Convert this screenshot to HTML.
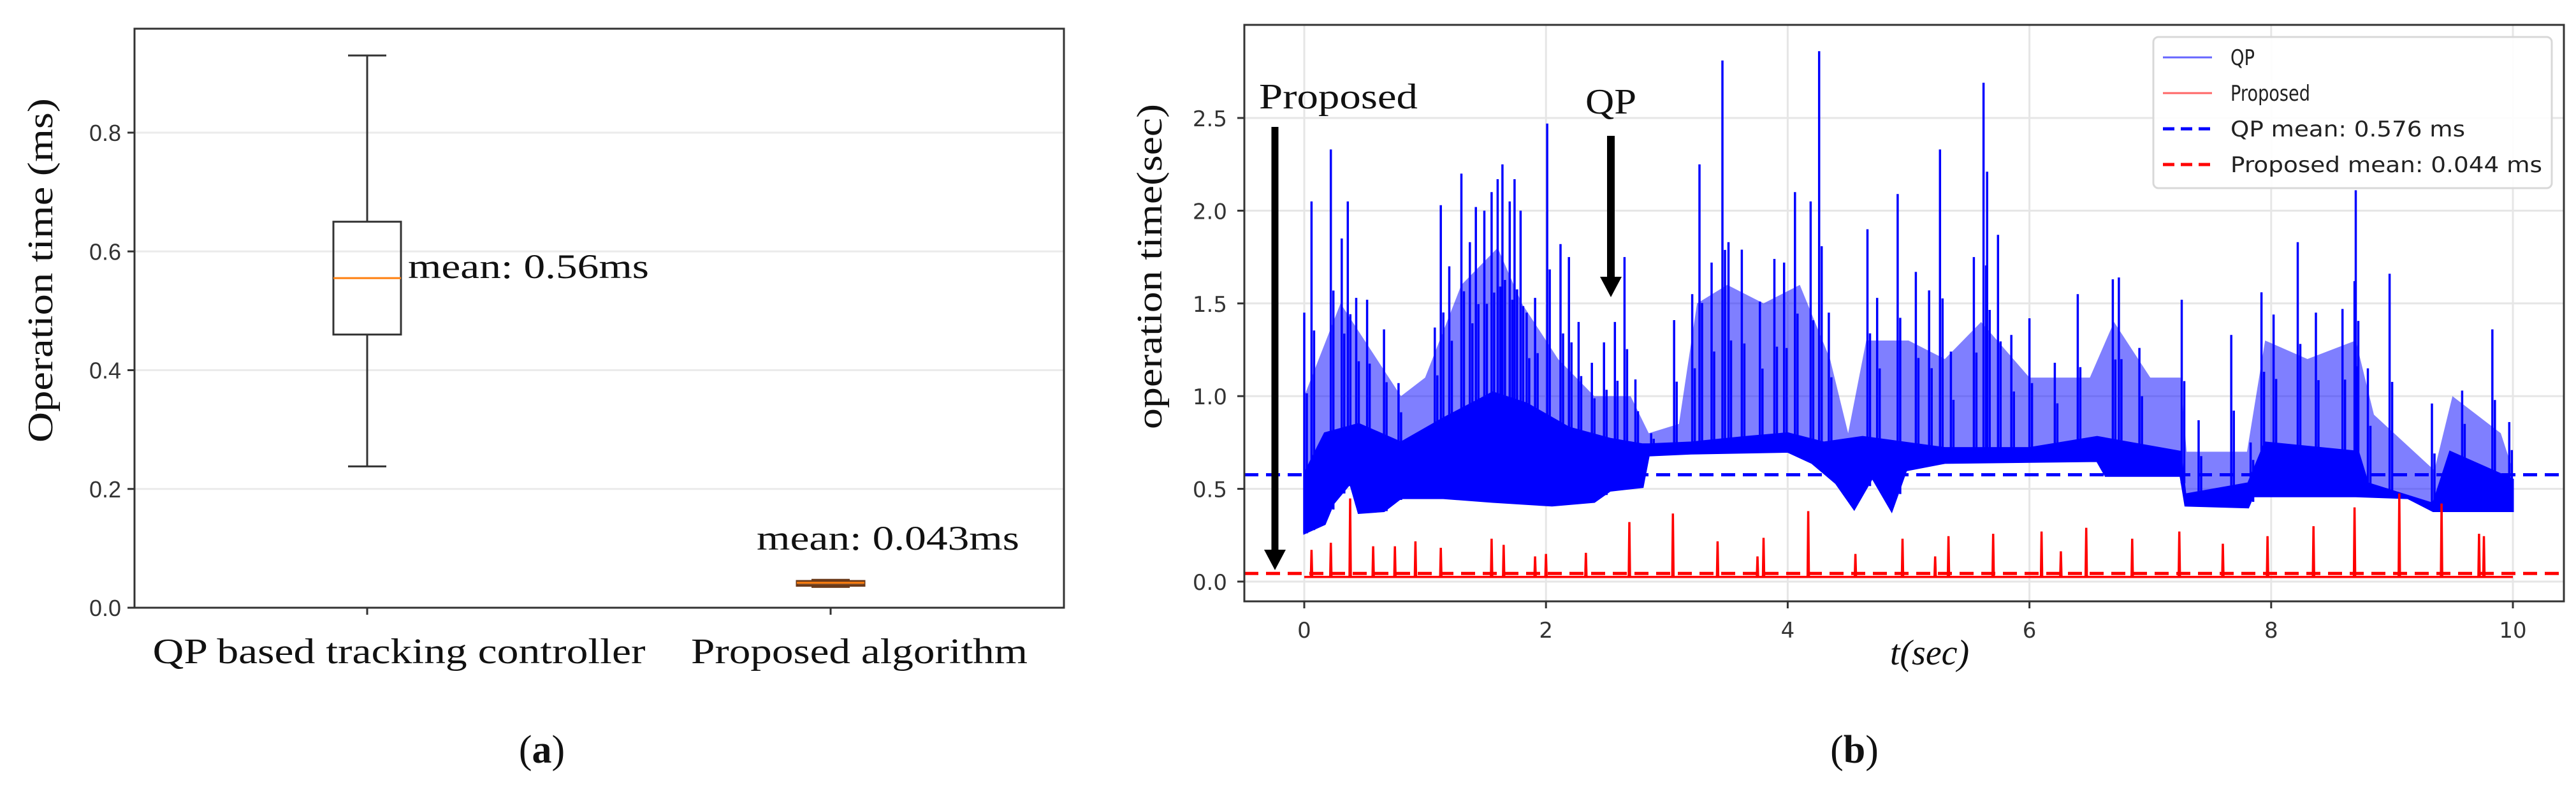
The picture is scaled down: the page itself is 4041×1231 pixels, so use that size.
<!DOCTYPE html>
<html><head><meta charset="utf-8"><style>
html,body{margin:0;padding:0;background:#fff;}
svg{display:block;}
</style></head><body>
<svg id="fig" width="4041" height="1231" viewBox="0 0 4041 1231" xmlns="http://www.w3.org/2000/svg">
<defs><clipPath id="clipb"><rect x="1952" y="40" width="2070" height="903"/></clipPath></defs>
<rect width="4041" height="1231" fill="#fff"/>
<g id="chartA"></g>
<g id="chartB"></g>
</svg>
<script>
// ---------- Chart A data ----------
const boxCategories = ["QP based tracking controller", "Proposed algorithm"];
const boxWhiskLow = [0.238, 0.035];
const boxQ1 = [0.46, 0.037];
const boxMedian = [0.555, 0.042];
const boxQ3 = [0.65, 0.045];
const boxWhiskHigh = [0.93, 0.047];
const boxMeanLabels = ["mean: 0.56ms", "mean: 0.043ms"];
const aTicks = [0.0, 0.2, 0.4, 0.6, 0.8];
const aTickLabels = ["0.0", "0.2", "0.4", "0.6", "0.8"];

// ---------- Chart B data ----------
const bXTicks = [0, 2, 4, 6, 8, 10];
const bYTicks = [0.0, 0.5, 1.0, 1.5, 2.0, 2.5];
const bYTickLabels = ["0.0", "0.5", "1.0", "1.5", "2.0", "2.5"];
const qpLowT = [0,0.17,0.24,0.38,0.45,0.66,0.8,1.15,1.56,2.05,2.4,2.53,2.8,2.85,3.2,4.0,4.2,4.4,4.55,4.7,4.86,4.98,5.3,6.56,6.63,7.25,7.29,7.81,7.85,8.7,9.13,9.34,10];
const qpLowV = [0.26,0.31,0.42,0.53,0.37,0.38,0.45,0.45,0.43,0.41,0.43,0.49,0.51,0.68,0.69,0.70,0.64,0.53,0.39,0.56,0.38,0.6,0.64,0.65,0.57,0.57,0.41,0.40,0.46,0.46,0.45,0.38,0.38];
const qpTopT = [0,0.17,0.45,0.8,1.15,1.56,1.84,2.19,2.53,2.8,2.85,3.2,3.65,4.0,4.3,4.62,5.3,6.0,6.56,7.25,7.29,7.81,7.95,8.72,8.8,9.34,9.48,10];
const qpTopV = [0.58,0.8,0.85,0.75,0.88,1.02,0.96,0.83,0.77,0.74,0.74,0.75,0.78,0.80,0.75,0.78,0.72,0.72,0.78,0.70,0.47,0.53,0.75,0.70,0.53,0.42,0.70,0.55];
const qpMidT = [0,0.3,0.5,0.8,1.0,1.3,1.6,1.8,2.1,2.4,2.7,2.85,3.1,3.25,3.5,3.8,4.1,4.35,4.5,4.65,5.0,5.3,5.6,6.0,6.5,6.7,7.0,7.25,7.3,7.8,7.95,8.3,8.7,8.85,9.35,9.5,9.9,10];
const qpMidV = [1.0,1.5,1.3,1.0,1.1,1.6,1.8,1.5,1.2,1.0,1.0,0.8,0.85,1.5,1.6,1.5,1.6,1.2,0.8,1.3,1.3,1.2,1.4,1.1,1.1,1.4,1.1,1.1,0.7,0.7,1.3,1.2,1.3,0.9,0.6,1.0,0.8,0.6];
const qpSpikeT = [0,0.06,0.22,0.31,0.36,0.43,0.52,0.66,0.78,1.08,1.13,1.2,1.3,1.37,1.42,1.49,1.55,1.6,1.64,1.7,1.74,1.79,1.84,1.91,2.01,2.12,2.19,2.27,2.38,2.48,2.57,2.65,2.74,2.87,3.06,3.21,3.27,3.37,3.46,3.51,3.62,3.77,3.89,3.97,4.06,4.19,4.26,4.34,4.66,4.74,4.91,5.06,5.17,5.26,5.35,5.54,5.62,5.65,5.74,5.85,6.0,6.21,6.4,6.69,6.74,6.91,7.26,7.4,7.67,7.83,7.92,8.02,8.22,8.37,8.59,8.69,8.7,8.8,8.98,9.33,9.58,9.83,9.97];
const qpSpikeV = [1.45,2.05,2.33,1.85,2.05,1.53,1.52,1.36,1.07,1.37,2.03,1.70,2.2,1.83,2.02,2.0,2.1,2.17,2.25,2.05,2.17,2.0,1.45,1.53,2.47,1.82,1.75,1.4,1.18,1.29,1.4,1.75,1.09,0.8,1.41,1.55,2.25,1.72,2.81,1.83,1.79,1.51,1.74,1.72,2.1,2.05,2.86,1.45,1.9,1.53,2.09,1.67,1.57,2.33,1.24,1.75,2.69,2.21,1.87,1.33,1.42,1.18,1.55,1.63,1.64,1.26,1.52,0.87,1.33,0.75,1.56,1.44,1.83,1.45,1.47,1.62,2.11,1.15,1.66,0.96,1.03,1.36,0.86];
const propSpikeT = [0.06,0.22,0.38,0.57,0.75,0.92,1.13,1.55,1.65,1.91,2.0,2.33,2.69,3.05,3.42,3.75,3.8,4.17,4.56,4.95,5.22,5.33,5.70,6.1,6.26,6.47,6.85,7.24,7.6,7.97,8.35,8.69,9.06,9.41,9.72,9.76];
const propSpikeV = [0.171,0.209,0.448,0.19,0.19,0.217,0.182,0.231,0.198,0.136,0.149,0.155,0.321,0.367,0.217,0.136,0.236,0.38,0.149,0.231,0.136,0.245,0.258,0.27,0.163,0.29,0.231,0.27,0.204,0.245,0.299,0.40,0.475,0.421,0.258,0.245];
const propBase = 0.025;
const qpMean = 0.576;
const propMean = 0.044;
const legendLabels = ["QP", "Proposed", "QP mean: 0.576 ms", "Proposed mean: 0.044 ms"];

const NS = "http://www.w3.org/2000/svg";
function mk(parent, tag, attrs, text) {
  const e = document.createElementNS(NS, tag);
  for (const k in attrs) e.setAttribute(k, attrs[k]);
  if (text !== undefined) e.textContent = text;
  parent.appendChild(e);
  return e;
}
// ---------- Chart A ----------
const A = document.getElementById('chartA');
const ya = v => 953 - v * 931.25;
const catX = [576, 1303];
const labelX = [626, 1348];
aTicks.forEach((t, i) => {
  const g = mk(A, 'line', {x1: 211, x2: 1669, y1: ya(t), y2: ya(t), stroke: '#ebebeb', 'stroke-width': 3});
  
  
  const tk = mk(A, 'line', {x1: 200, x2: 211, y1: ya(t), y2: ya(t), stroke: '#333', 'stroke-width': 3});
  
  
  const lb = mk(A, 'text', {x: 190, y: ya(t) + 13, 'text-anchor': 'end', 'font-family': 'Liberation Sans, sans-serif', 'font-size': 36, fill: '#333'}, aTickLabels[i]);
  
  
});
boxCategories.forEach((c, i) => {
  const x = catX[i];
  const hw = 53, cw = 30;
  const dark = i === 1;
  const col = dark ? '#6b3a1a' : '#333';
  const wl = mk(A, 'line', {x1: x, x2: x, y1: ya(boxWhiskHigh[i]), y2: ya(boxQ3[i]), stroke: col, 'stroke-width': 3});
  
  
  const wl2 = mk(A, 'line', {x1: x, x2: x, y1: ya(boxQ1[i]), y2: ya(boxWhiskLow[i]), stroke: col, 'stroke-width': 3});
  
  
  const c1 = mk(A, 'line', {x1: x - cw, x2: x + cw, y1: ya(boxWhiskHigh[i]), y2: ya(boxWhiskHigh[i]), stroke: col, 'stroke-width': 3});
  
  
  const c2 = mk(A, 'line', {x1: x - cw, x2: x + cw, y1: ya(boxWhiskLow[i]), y2: ya(boxWhiskLow[i]), stroke: col, 'stroke-width': 3});
  
  
  const bx = mk(A, 'rect', {x: x - hw, y: ya(boxQ3[i]), width: hw * 2, height: Math.max(ya(boxQ1[i]) - ya(boxQ3[i]), 3), fill: dark ? '#7a4a2a' : 'none', stroke: col, 'stroke-width': 3});
  
  
  const md = mk(A, 'line', {x1: x - hw, x2: x + hw, y1: ya(boxMedian[i]), y2: ya(boxMedian[i]), stroke: '#ff7f0e', 'stroke-width': 3});
  
  
  const tk = mk(A, 'line', {x1: x, x2: x, y1: 953, y2: 964, stroke: '#333', 'stroke-width': 3});
  
  
  const lb = mk(A, 'text', {x: labelX[i], y: 1040, 'text-anchor': 'middle', 'font-family': 'Liberation Serif, serif', 'font-size': 56, fill: '#111', textLength: i === 0 ? 773 : 528, lengthAdjust: 'spacingAndGlyphs'}, c);
  
  
});
let t1 = mk(A, 'text', {x: 640, y: 436, 'font-family': 'Liberation Serif, serif', 'font-size': 54, fill: '#111', textLength: 378, lengthAdjust: 'spacingAndGlyphs'}, boxMeanLabels[0]);


let t2 = mk(A, 'text', {x: 1187, y: 862, 'font-family': 'Liberation Serif, serif', 'font-size': 54, fill: '#111', textLength: 412, lengthAdjust: 'spacingAndGlyphs'}, boxMeanLabels[1]);


let fa = mk(A, 'rect', {x: 211, y: 45, width: 1458, height: 908, fill: 'none', stroke: '#333', 'stroke-width': 3});


let yta = mk(A, 'text', {x: 0, y: 0, transform: 'translate(82,424) rotate(-90)', 'text-anchor': 'middle', 'font-family': 'Liberation Serif, serif', 'font-size': 56, fill: '#111', textLength: 540, lengthAdjust: 'spacingAndGlyphs'}, 'Operation time (ms)');


let ca = mk(A, 'text', {x: 850, y: 1196, 'text-anchor': 'middle', 'font-family': 'Liberation Serif, serif', 'font-size': 62, fill: '#111'}, '');


mk(ca, 'tspan', {}, '(');
mk(ca, 'tspan', {'font-weight': 'bold'}, 'a');
mk(ca, 'tspan', {}, ')');

// ---------- Chart B ----------
const B = document.getElementById('chartB');
const xb = t => 2046 + t * 189.6;
const yb = v => 912 - v * 290.8;
function interp(ts, vs, t) {
  for (let i = 0; i < ts.length - 1; i++) if (t >= ts[i] && t <= ts[i + 1]) return vs[i] + (vs[i + 1] - vs[i]) * (t - ts[i]) / (ts[i + 1] - ts[i]);
  return vs[vs.length - 1];
}
bXTicks.forEach(t => {
  const g = mk(B, 'line', {x1: xb(t), x2: xb(t), y1: 40, y2: 943, stroke: '#e6e6e6', 'stroke-width': 3});
  
  
  const tk = mk(B, 'line', {x1: xb(t), x2: xb(t), y1: 943, y2: 954, stroke: '#333', 'stroke-width': 3});
  
  
  const lb = mk(B, 'text', {x: xb(t), y: 1000, 'text-anchor': 'middle', 'font-family': 'DejaVu Sans, sans-serif', 'font-size': 34, fill: '#333'}, String(t));
  
  
});
bYTicks.forEach((v, i) => {
  const g = mk(B, 'line', {x1: 1952, x2: 4022, y1: yb(v), y2: yb(v), stroke: '#e6e6e6', 'stroke-width': 3});
  
  
  const tk = mk(B, 'line', {x1: 1941, x2: 1952, y1: yb(v), y2: yb(v), stroke: '#333', 'stroke-width': 3});
  
  
  const lb = mk(B, 'text', {x: 1925, y: yb(v) + 13, 'text-anchor': 'end', 'font-family': 'DejaVu Sans, sans-serif', 'font-size': 34, fill: '#333'}, bYTickLabels[i]);
  
  
});
const plot = mk(B, 'g', {'clip-path': 'url(#clipb)'});


function bandPoints(topT, topV) {
  let pts = [];
  topT.forEach((t, i) => pts.push(xb(t).toFixed(1) + ',' + yb(topV[i]).toFixed(1)));
  for (let i = qpLowT.length - 1; i >= 0; i--) pts.push(xb(qpLowT[i]).toFixed(1) + ',' + yb(qpLowV[i]).toFixed(1));
  return pts.join(' ');
}
// QP mid-density envelope
const mid = mk(plot, 'polygon', {points: bandPoints(qpMidT, qpMidV), fill: '#0000ff', 'fill-opacity': 0.5, stroke: 'none'});


// QP dense band
const band = mk(plot, 'polygon', {points: bandPoints(qpTopT, qpTopV), fill: '#0000ff', stroke: '#0000ff', 'stroke-width': 3});


// QP spikes
let d = '';
qpSpikeT.forEach((t, i) => {
  const x = xb(t);
  d += 'M' + x.toFixed(1) + ',' + yb(interp(qpLowT, qpLowV, t)).toFixed(1) + 'V' + yb(qpSpikeV[i]).toFixed(1);
  const x2 = x + 4;
  d += 'M' + x2.toFixed(1) + ',' + yb(interp(qpLowT, qpLowV, t)).toFixed(1) + 'V' + yb((qpSpikeV[i] + interp(qpTopT, qpTopV, t)) / 2).toFixed(1);
});
const sp = mk(plot, 'path', {d: d, stroke: '#0000ff', 'stroke-width': 3.5, fill: 'none'});


// Proposed series
let dr = 'M' + xb(0) + ',' + yb(propBase);
propSpikeT.forEach((t, i) => {
  const x = xb(t);
  dr += 'L' + (x - 1).toFixed(1) + ',' + yb(propBase).toFixed(1) + 'L' + x.toFixed(1) + ',' + yb(propSpikeV[i]).toFixed(1) + 'L' + (x + 1).toFixed(1) + ',' + yb(propBase).toFixed(1);
});
dr += 'L' + xb(10) + ',' + yb(propBase);
const rp = mk(plot, 'path', {d: dr, stroke: '#ff0000', 'stroke-width': 3.5, fill: 'none'});


// mean lines
const qm = mk(plot, 'line', {x1: 1952, x2: 4022, y1: yb(qpMean), y2: yb(qpMean), stroke: '#0000ff', 'stroke-width': 5, 'stroke-dasharray': '22 12'});


const pm = mk(plot, 'line', {x1: 1952, x2: 4022, y1: yb(propMean), y2: yb(propMean), stroke: '#ff0000', 'stroke-width': 5, 'stroke-dasharray': '22 12'});


// annotations
const an1 = mk(B, 'text', {x: 1975, y: 170, 'font-family': 'Liberation Serif, serif', 'font-size': 56, fill: '#111', textLength: 249, lengthAdjust: 'spacingAndGlyphs'}, 'Proposed');


const ar1 = mk(B, 'path', {d: 'M1994.5,199H2005.5V862H2017L2000,894L1983,862H1994.5Z', fill: '#000'});


const an2 = mk(B, 'text', {x: 2487, y: 178, 'font-family': 'Liberation Serif, serif', 'font-size': 56, fill: '#111', textLength: 80, lengthAdjust: 'spacingAndGlyphs'}, 'QP');


const ar2 = mk(B, 'path', {d: 'M2521,213H2533V434H2544L2527,466L2510,434H2521Z', fill: '#000'});


// frame
const fb = mk(B, 'rect', {x: 1952, y: 39, width: 2070, height: 904, fill: 'none', stroke: '#333', 'stroke-width': 3});


// legend
const lg = mk(B, 'g', {});


mk(lg, 'rect', {x: 3378, y: 58, width: 625, height: 237, rx: 8, fill: '#fff', 'fill-opacity': 0.9, stroke: '#d8d8d8', 'stroke-width': 3});
const lCol = ['#6666ff', '#ff6666', '#0000ff', '#ff0000'];
const lDash = ['', '', '18 10', '18 10'];
const lY = [90, 146, 202, 258];
const lLen = [38, 125, 368, 489];
legendLabels.forEach((s, i) => {
  const e = mk(lg, 'g', {});
  
  
  const a = {x1: 3393, x2: 3470, y1: lY[i], y2: lY[i], stroke: lCol[i], 'stroke-width': i < 2 ? 3 : 5};
  if (lDash[i]) a['stroke-dasharray'] = lDash[i];
  mk(e, 'line', a);
  mk(e, 'text', {x: 3499, y: lY[i] + 12, 'font-family': 'DejaVu Sans, sans-serif', 'font-size': 34, fill: '#222', textLength: lLen[i], lengthAdjust: 'spacingAndGlyphs'}, s);
});
// axis titles
const ytb = mk(B, 'text', {x: 0, y: 0, transform: 'translate(1822,418) rotate(-90)', 'text-anchor': 'middle', 'font-family': 'Liberation Serif, serif', 'font-size': 56, fill: '#111', textLength: 510, lengthAdjust: 'spacingAndGlyphs'}, 'operation time(sec)');


const xtb = mk(B, 'text', {x: 3027, y: 1042, 'text-anchor': 'middle', 'font-family': 'Liberation Serif, serif', 'font-size': 56, 'font-style': 'italic', fill: '#111'}, 't(sec)');


const cb = mk(B, 'text', {x: 2909, y: 1196, 'text-anchor': 'middle', 'font-family': 'Liberation Serif, serif', 'font-size': 62, fill: '#111'}, '');


mk(cb, 'tspan', {}, '(');
mk(cb, 'tspan', {'font-weight': 'bold'}, 'b');
mk(cb, 'tspan', {}, ')');
</script>
</body></html>
